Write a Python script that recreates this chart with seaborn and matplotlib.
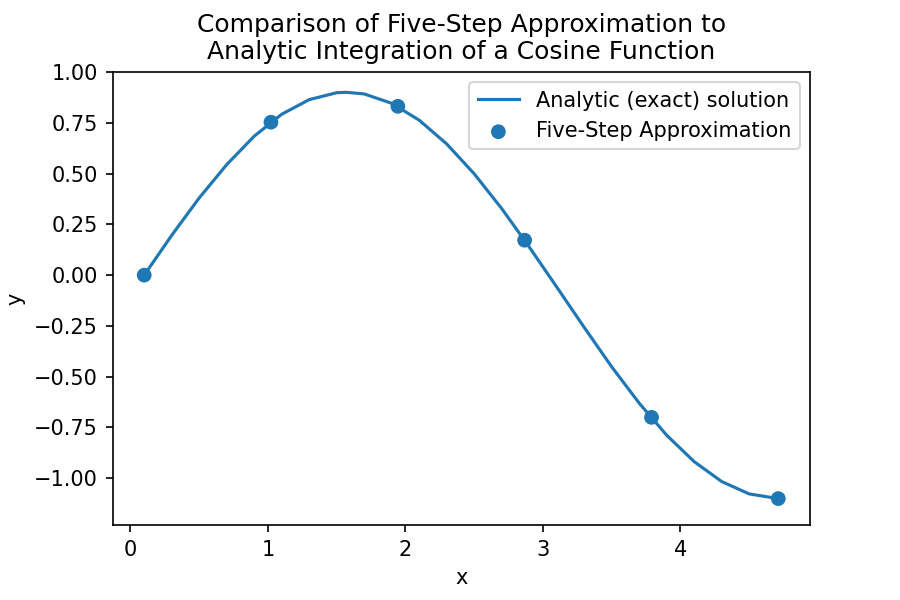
import matplotlib
matplotlib.use("Agg")
import matplotlib.pyplot as plt
import seaborn as sns
import pandas as pd

line_x = [0.1, 0.3, 0.5, 0.7, 0.9, 1.1, 1.3, 1.5, 1.57, 1.7, 1.9, 2.1, 2.3, 2.5, 2.7,
          2.9, 3.1, 3.3, 3.5, 3.7, 3.9, 4.1, 4.3, 4.5, 4.712]
line_y = [0.0, 0.196, 0.380, 0.544, 0.684, 0.792, 0.864, 0.898, 0.900, 0.892, 0.846,
          0.763, 0.646, 0.499, 0.328, 0.139, -0.058, -0.257, -0.451, -0.630, -0.788,
          -0.918, -1.016, -1.077, -1.100]
pt_x = [0.1, 1.022, 1.945, 2.867, 3.79, 4.712]
pt_y = [0.0, 0.753, 0.831, 0.172, -0.700, -1.100]

fig, ax = plt.subplots(figsize=(6, 4), dpi=150)
sns.lineplot(x=line_x, y=line_y, ax=ax, color="#1f77b4", label="Analytic (exact) solution")
sns.scatterplot(x=pt_x, y=pt_y, ax=ax, color="#1f77b4", s=50, edgecolor="none",
                label="Five-Step Approximation")
ax.set_ylim(-1.23, 1.0)
ax.set_xlabel("x")
ax.set_ylabel("y")
ax.set_title("Comparison of Five-Step Approximation to\nAnalytic Integration of a Cosine Function")
ax.legend(loc="upper right")
fig.subplots_adjust(left=0.125, right=0.9, top=0.88, bottom=0.125)
fig.savefig("out.png", dpi=150)
